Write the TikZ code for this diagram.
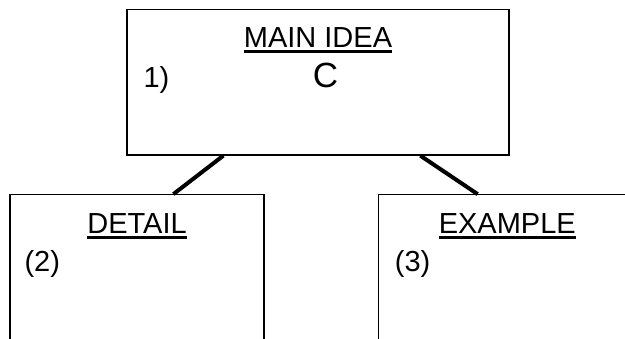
\documentclass[tikz,border=0pt]{standalone}
\usepackage{fontspec}
\setmainfont{Liberation Sans}
\usetikzlibrary{positioning}
\newcommand{\heading}[1]{\setbox0=\hbox{#1}\rlap{\rule[-5pt]{\wd0}{3pt}}\box0}
\tikzset{
  mapbox/.style={rectangle, draw, line width=1.3pt, inner sep=0pt},
  txt/.style={inner sep=0pt, font=\fontsize{29}{34}\selectfont},
  bigtxt/.style={inner sep=0pt, font=\fontsize{35}{40}\selectfont},
  link/.style={line width=4pt},
}
\begin{document}
\begin{tikzpicture}
  \clip (0,0) rectangle (625pt,338pt);
  \node[mapbox, minimum width=382pt, minimum height=145.5pt] (main) at (318pt,255.75pt) {};
  \node[mapbox, minimum width=254pt, minimum height=220pt] (detail) [below=38.5pt of main.south west, anchor=north west, xshift=-117pt] {};
  \node[mapbox, minimum width=258pt, minimum height=220pt] (example) [below=38.5pt of main.south east, anchor=north west, xshift=-132pt] {};

  \node[txt, anchor=base] (mainhead) at ([yshift=-38.8pt]main.north) {\heading{MAIN IDEA}};
  \node[txt, anchor=base west] (mainnum) at ([xshift=17pt, yshift=-78.5pt]main.north west) {1)};
  \node[bigtxt, anchor=base] (mainletter) at ([xshift=7.5pt, yshift=-78.5pt]main.north) {C};
  \node[txt, anchor=base] (detailhead) at ([yshift=-39.5pt]detail.north) {\heading{DETAIL}};
  \node[txt, anchor=base west] (detailnum) at ([xshift=15pt, yshift=-77.5pt]detail.north west) {(2)};
  \node[txt, anchor=base] (examplehead) at ([yshift=-39.5pt]example.north) {\heading{EXAMPLE}};
  \node[txt, anchor=base west] (examplenum) at ([xshift=17pt, yshift=-77.5pt]example.north west) {(3)};

  \draw[link] ([xshift=97pt]main.south west) -- ([xshift=164pt]detail.north west);
  \draw[link] ([xshift=294pt]main.south west) -- ([xshift=100pt]example.north west);
\end{tikzpicture}
\end{document}
